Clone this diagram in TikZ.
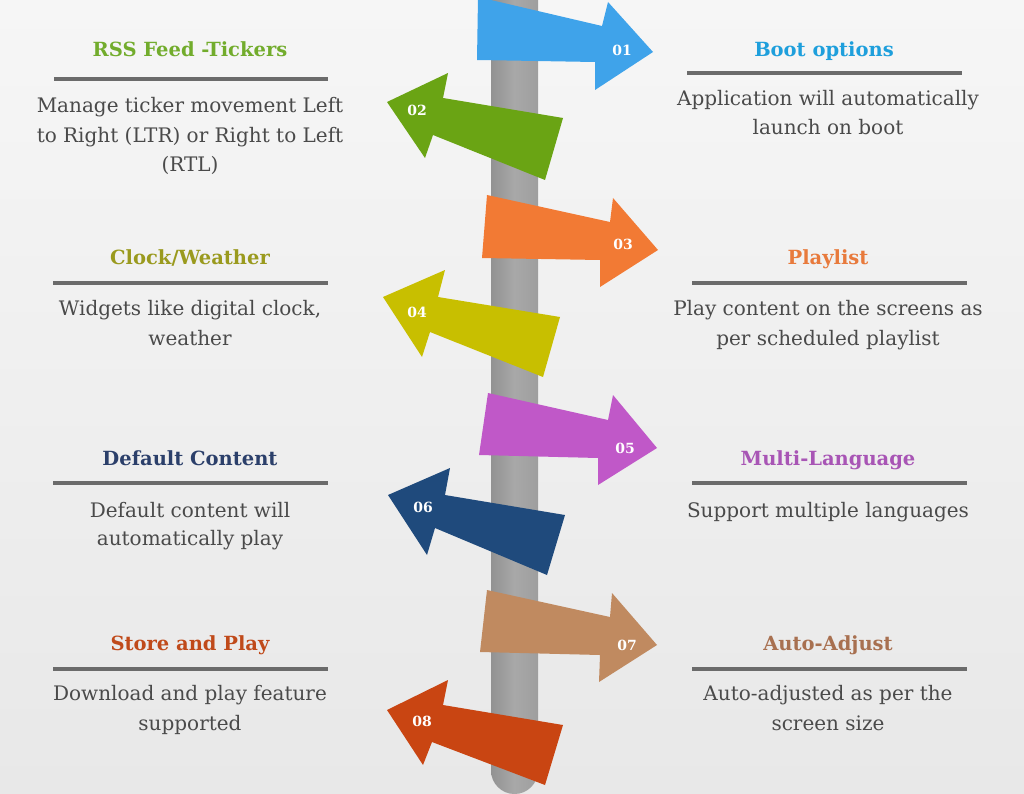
\documentclass[tikz,border=0pt]{standalone}
\usepackage{fontspec}
\setmainfont{DejaVu Serif}
\definecolor{bgtop}{HTML}{F6F6F6}
\definecolor{bgbot}{HTML}{E8E8E8}
\definecolor{poleL}{HTML}{929292}
\definecolor{poleM}{HTML}{A8A8A8}
\definecolor{poleR}{HTML}{9E9E9E}
\definecolor{rulecol}{HTML}{6B6B6B}
\definecolor{bodycol}{HTML}{4A4A4A}
\definecolor{aBlue}{HTML}{3FA3EA}
\definecolor{aGreen}{HTML}{6AA414}
\definecolor{aOrange}{HTML}{F27A34}
\definecolor{aOlive}{HTML}{C8BF00}
\definecolor{aMagenta}{HTML}{C058C8}
\definecolor{aNavy}{HTML}{1F4A7C}
\definecolor{aTan}{HTML}{C08A60}
\definecolor{aRed}{HTML}{C94512}
\definecolor{tBlue}{HTML}{1E9FDC}
\definecolor{tGreen}{HTML}{72AC2C}
\definecolor{tOrange}{HTML}{E87A3C}
\definecolor{tOlive}{HTML}{9A9A1E}
\definecolor{tPurple}{HTML}{A855B5}
\definecolor{tNavy}{HTML}{2B3F6A}
\definecolor{tTan}{HTML}{A87050}
\definecolor{tRed}{HTML}{C04A1A}
\begin{document}
\begin{tikzpicture}[x=1pt,y=-1pt,
  titletext/.style={anchor=base,inner sep=0pt,font=\fontsize{19.5}{24}\selectfont\bfseries},
  bodytext/.style={anchor=base,inner sep=0pt,text=bodycol,font=\fontsize{20}{29}\selectfont},
  rulebar/.style={draw=rulecol,line width=4.5pt},
  arrowshape/.style={draw=none},
  numlabel/.style={inner sep=0pt,text=white,font=\fontsize{14}{16}\selectfont\bfseries}]
\useasboundingbox (0,0) rectangle (1024,794);
\clip (0,0) rectangle (1024,794);
\shade[top color=bgtop,bottom color=bgbot] (0,0) rectangle (1024,794);
% pole
\shade[left color=poleL,right color=poleR,middle color=poleM,rounded corners=23.5pt]
  (491,-40) -- (491,794) -- (538,794) -- (538,-40) -- cycle;
% arrows
\fill[arrowshape,aBlue] (478,-3) -- (602,26) -- (608,2) -- (653,52) -- (595,90) -- (595,62) -- (477,60) -- cycle;
\fill[arrowshape,aGreen] (387,102) -- (448,73) -- (443,98) -- (563,118) -- (545,180) -- (433,135) -- (425,158) -- cycle;
\fill[arrowshape,aOrange] (487,195) -- (610,222) -- (613,198) -- (658,250) -- (600,287) -- (600,260) -- (482,258) -- cycle;
\fill[arrowshape,aOlive] (383,297) -- (445,270) -- (438,297) -- (560,317) -- (543,377) -- (430,332) -- (422,357) -- cycle;
\fill[arrowshape,aMagenta] (488,393) -- (608,420) -- (613,395) -- (657,448) -- (598,485) -- (598,458) -- (479,455) -- cycle;
\fill[arrowshape,aNavy] (388,495) -- (450,468) -- (445,495) -- (565,515) -- (547,575) -- (435,528) -- (427,555) -- cycle;
\fill[arrowshape,aTan] (487,590) -- (610,617) -- (612,593) -- (657,645) -- (599,682) -- (600,655) -- (480,652) -- cycle;
\fill[arrowshape,aRed] (387,710) -- (448,680) -- (443,705) -- (563,725) -- (545,785) -- (432,742) -- (423,765) -- cycle;
% numbers
\node[numlabel] (n1) at (622,50) {01};
\node[numlabel] (n2) at (417,110) {02};
\node[numlabel] (n3) at (623,244) {03};
\node[numlabel] (n4) at (417,312) {04};
\node[numlabel] (n5) at (625,448) {05};
\node[numlabel] (n6) at (423,507) {06};
\node[numlabel] (n7) at (627,645) {07};
\node[numlabel] (n8) at (422,721) {08};
% left column
\node[titletext,text=tGreen] (t2) at (190,57) {RSS Feed -Tickers};
\draw[rulebar] (54,79) -- (328,79);
\node[bodytext] (b2a) at (190,113) {Manage ticker movement Left};
\node[bodytext] (b2b) at (190,143) {to Right (LTR) or Right to Left};
\node[bodytext] (b2c) at (190,172) {(RTL)};
\node[titletext,text=tOlive] (t4) at (190,264) {Clock/Weather};
\draw[rulebar] (53,283) -- (328,283);
\node[bodytext] (b4a) at (190,315) {Widgets like digital clock,};
\node[bodytext] (b4b) at (190,345) {weather};
\node[titletext,text=tNavy] (t6) at (190,465) {Default Content};
\draw[rulebar] (53,483) -- (328,483);
\node[bodytext] (b6a) at (190,517) {Default content will};
\node[bodytext] (b6b) at (190,545) {automatically play};
\node[titletext,text=tRed] (t8) at (190,650) {Store and Play};
\draw[rulebar] (53,669) -- (328,669);
\node[bodytext] (b8a) at (190,700) {Download and play feature};
\node[bodytext] (b8b) at (190,730) {supported};
% right column
\node[titletext,text=tBlue] (t1) at (824,57) {Boot options};
\draw[rulebar] (687,73) -- (962,73);
\node[bodytext] (b1a) at (828,106) {Application will automatically};
\node[bodytext] (b1b) at (828,135) {launch on boot};
\node[titletext,text=tOrange] (t3) at (828,264) {Playlist};
\draw[rulebar] (692,283) -- (967,283);
\node[bodytext] (b3a) at (828,315) {Play content on the screens as};
\node[bodytext] (b3b) at (828,345) {per scheduled playlist};
\node[titletext,text=tPurple] (t5) at (828,465) {Multi-Language};
\draw[rulebar] (692,483) -- (967,483);
\node[bodytext] (b5a) at (828,517) {Support multiple languages};
\node[titletext,text=tTan] (t7) at (828,650) {Auto-Adjust};
\draw[rulebar] (692,669) -- (967,669);
\node[bodytext] (b7a) at (828,700) {Auto-adjusted as per the};
\node[bodytext] (b7b) at (828,730) {screen size};
\end{tikzpicture}
\end{document}
